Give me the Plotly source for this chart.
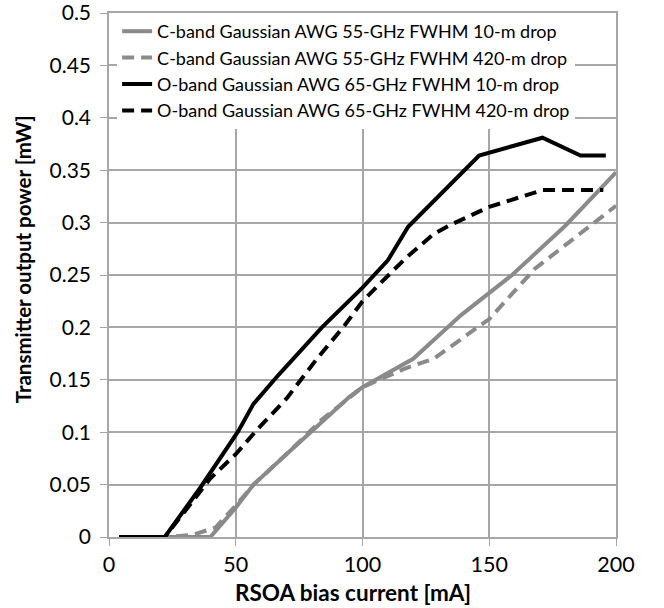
import plotly.graph_objects as go

# Data
x_c10 = [4, 22, 40, 50, 57, 70, 84, 95, 100, 110, 120, 139, 159, 180, 200]
y_c10 = [0, 0, 0, 0.028, 0.05, 0.079, 0.11, 0.134, 0.143, 0.157, 0.170, 0.212, 0.25, 0.297, 0.348]

x_c420 = [4, 22, 33, 38, 42, 50, 57, 70, 84, 100, 110, 117, 128, 150, 168, 200]
y_c420 = [0, 0, 0.002, 0.006, 0.009, 0.03, 0.05, 0.079, 0.112, 0.143, 0.153, 0.161, 0.170, 0.208, 0.256, 0.316]

x_o10 = [4, 22, 36, 51, 57, 67, 84, 100, 110, 118, 146, 171, 186, 196]
y_o10 = [0, 0, 0.047, 0.101, 0.127, 0.155, 0.2, 0.238, 0.264, 0.296, 0.364, 0.381, 0.364, 0.364]

x_o420 = [4, 22, 33, 40, 50, 59, 70, 82, 93, 100, 107, 117, 128, 134, 150, 171, 195]
y_o420 = [0, 0, 0.034, 0.056, 0.079, 0.104, 0.132, 0.17, 0.202, 0.225, 0.242, 0.266, 0.289, 0.297, 0.315, 0.331, 0.331]

names = [
    "C-band Gaussian AWG 55-GHz FWHM 10-m drop",
    "C-band Gaussian AWG 55-GHz FWHM 420-m drop",
    "O-band Gaussian AWG 65-GHz FWHM 10-m drop",
    "O-band Gaussian AWG 65-GHz FWHM 420-m drop",
]
x_ticks = [0, 50, 100, 150, 200]
y_ticks = [0, 0.05, 0.1, 0.15, 0.2, 0.25, 0.3, 0.35, 0.4, 0.45, 0.5]
y_tick_text = ["0", "0.05", "0.1", "0.15", "0.2", "0.25", "0.3", "0.35", "0.4", "0.45", "0.5"]
x_title = "RSOA bias current [mA]"
y_title = "Transmitter output power [mW]"

GRAY = "#8a8a8a"
BLACK = "#000000"
DASH = "12px,7px"
FONT = "Lato"

fig = go.Figure()
series = [
    (x_c10, y_c10, GRAY, "solid"),
    (x_c420, y_c420, GRAY, DASH),
    (x_o10, y_o10, BLACK, "solid"),
    (x_o420, y_o420, BLACK, DASH),
]
for (xs, ys, col, dash), nm in zip(series, names):
    fig.add_trace(go.Scatter(x=xs, y=ys, mode="lines", name=nm, cliponaxis=False,
                             line=dict(color=col, width=4, dash=dash)))

grid_col = "#a6a6a6"
fig.update_layout(
    width=664, height=608,
    margin=dict(l=109, r=48, t=13, b=71),
    plot_bgcolor="white", paper_bgcolor="white",
    font=dict(family=FONT, color="black"),
    showlegend=True,
    legend=dict(x=0.016, y=1.0, xanchor="left", yanchor="top",
                bgcolor="white", font=dict(size=18, family=FONT),
                tracegroupgap=0),
    xaxis=dict(range=[0, 200], tickvals=x_ticks, showgrid=True, gridcolor=grid_col,
               gridwidth=1.5, zeroline=False, showline=True, linecolor=grid_col,
               linewidth=1.5, mirror=True, ticks="outside", ticklen=7,
               tickcolor=grid_col, tickfont=dict(size=21.5), automargin=False,
               ticklabelstandoff=0, ticklabeloverflow="allow"),
    yaxis=dict(range=[0, 0.5], tickvals=y_ticks, ticktext=y_tick_text, showgrid=True,
               gridcolor=grid_col, gridwidth=1.5, zeroline=False, showline=True,
               linecolor=grid_col, linewidth=1.5, mirror=True, ticks="outside",
               ticklen=7, tickcolor=grid_col, tickfont=dict(size=21), automargin=False,
               ticklabelstandoff=5, ticklabeloverflow="allow"),
    annotations=[
        dict(text="<b>" + x_title + "</b>", xref="paper", yref="paper",
             x=0.481, y=0, yshift=-55, xanchor="center", yanchor="middle",
             showarrow=False, font=dict(size=22.5, family=FONT)),
        dict(text="<b>" + y_title + "</b>", xref="paper", yref="paper",
             x=0, xshift=-86, y=0.53, xanchor="center", yanchor="middle",
             textangle=-90, showarrow=False, font=dict(size=20.5, family=FONT)),
    ],
)

fig.write_html("out.html", post_script="document.body.style.margin='0';",
               config={"displayModeBar": False})
